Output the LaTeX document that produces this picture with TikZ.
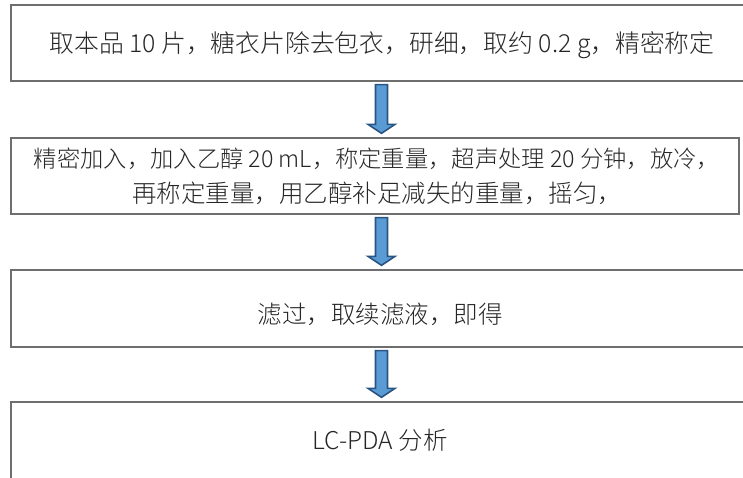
\documentclass[tikz,border=0pt]{standalone}
\usepackage{fontspec}
\setmainfont{Noto Sans CJK SC}[UprightFont={* Light}]
\usetikzlibrary{calc}
\definecolor{boxline}{HTML}{6E6E6E}
\definecolor{arrfill}{HTML}{5B9BD5}
\definecolor{arrline}{HTML}{2A5582}
\newcommand\blockarrow[2]{%
  \draw[blockarrow] let \p1=(#1.south), \p2=(#2.north), \p3=(axis) in
    (\x3-6pt,\y1-3pt) -- (\x3+6pt,\y1-3pt) -- (\x3+6pt,\y2+13pt) -- (\x3+13.5pt,\y2+13pt)
    -- (\x3,\y2+4pt) -- (\x3-13.5pt,\y2+13pt) -- (\x3-6pt,\y2+13pt) -- cycle;}
\begin{document}
\begin{tikzpicture}[x=1pt,y=-1pt,
  box/.style={draw=boxline, line width=1.3pt, inner sep=0pt},
  txt/.style={font=\fontsize{24.5}{35}\selectfont, text=black!85, inner sep=0pt, align=center},
  blockarrow/.style={fill=arrfill, draw=arrline, line width=1.6pt, line join=miter}]
\useasboundingbox (0,0) rectangle (743,478);
\clip (0,0) rectangle (743,478);
\coordinate (axis) at (381.5,0);
\node[box, minimum width=741pt, minimum height=76pt] (b1) at (381.5,43) {};
\node[txt, font=\fontsize{24.8}{35}\selectfont] (t1) at (382,45) {取本品 10 片，糖衣片除去包衣，研细，取约 0.2 g，精密称定};
\node[box, minimum width=728pt, minimum height=76pt] (b2) at (375,176) {};
\node[txt] (t2) at (377,176) {{\fontsize{23.3}{35}\selectfont 精密加入，加入乙醇 20 mL，称定重量，超声处理 20 分钟，放冷，}\\再称定重量，用乙醇补足减失的重量，摇匀，};
\node[box, minimum width=741pt, minimum height=77pt] (b3) at (381.5,308.5) {};
\node[txt] (t3) at (380,314) {滤过，取续滤液，即得};
\node[box, minimum width=741pt, minimum height=90pt] (b4) at (381.5,447) {};
\node[txt] (t4) at (380,440) {LC-PDA 分析};
\blockarrow{b1}{b2}
\blockarrow{b2}{b3}
\blockarrow{b3}{b4}
\end{tikzpicture}
\end{document}
